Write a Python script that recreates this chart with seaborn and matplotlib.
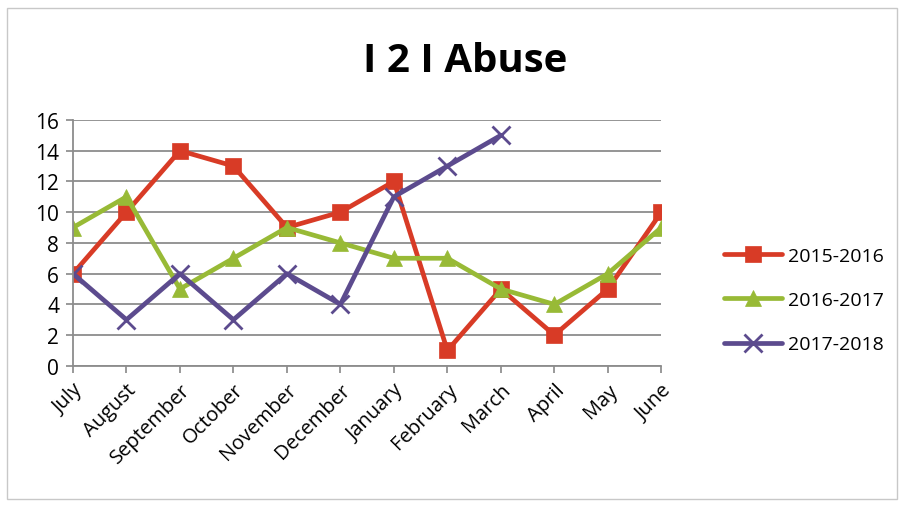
import matplotlib
matplotlib.use("Agg")
import matplotlib.pyplot as plt
import seaborn as sns
import pandas as pd
from matplotlib.patches import Rectangle

months = ["July", "August", "September", "October", "November", "December",
          "January", "February", "March", "April", "May", "June"]
s2015 = [6, 10, 14, 13, 9, 10, 12, 1, 5, 2, 5, 10]
s2016 = [9, 11, 5, 7, 9, 8, 7, 7, 5, 4, 6, 9]
s2017 = [6, 3, 6, 3, 6, 4, 11, 13, 15]
series_names = ["2015-2016", "2016-2017", "2017-2018"]
yticks = [0, 2, 4, 6, 8, 10, 12, 14, 16]

sns.set_theme(style="white")
plt.rcParams['font.family'] = ['Open Sans', 'DejaVu Sans']
plt.rcParams['text.color'] = 'black'
plt.rcParams['xtick.color'] = 'black'
plt.rcParams['ytick.color'] = 'black'

rows = []
for name, vals in zip(series_names, [s2015, s2016, s2017]):
    for i, v in enumerate(vals):
        rows.append({"idx": i, "month": months[i], "value": v, "series": name})
df = pd.DataFrame(rows)

fig = plt.figure(figsize=(9.01, 5.06), dpi=100)
ax = fig.add_axes([0.081, 0.275, 0.653, 0.486])

colors = {"2015-2016": "#D83B26", "2016-2017": "#98BA36", "2017-2018": "#5C4B8E"}
markers = {"2015-2016": "s", "2016-2017": "^", "2017-2018": "x"}
for name in series_names:
    sub = df[df.series == name]
    sns.lineplot(data=sub, x="idx", y="value", ax=ax, color=colors[name],
                 marker=markers[name], markersize=12 if name != "2017-2018" else 13,
                 markeredgewidth=2 if name == "2017-2018" else 0.5,
                 markeredgecolor=colors[name],
                 linewidth=3.4, label=name, sort=False)

ax.set_xlim(0, len(months) - 1)
ax.set_ylim(0, 16)
ax.set_yticks(yticks)
ax.set_yticklabels([str(t) for t in yticks], fontsize=15)
ax.set_xticks(range(len(months)))
ax.set_xticklabels(months, rotation=45, ha="right", rotation_mode="anchor", fontsize=14.5)
ax.set_xlabel("")
ax.set_ylabel("")
ax.yaxis.grid(True, color="#8c8c8c", linewidth=1.3)
ax.xaxis.grid(False)
for s in ["top", "right"]:
    ax.spines[s].set_visible(False)
for s in ["left", "bottom"]:
    ax.spines[s].set_color("#8c8c8c")
    ax.spines[s].set_linewidth(1.3)
ax.tick_params(axis="both", which="both", length=5, color="#8c8c8c", direction="out",
               left=True, bottom=True, pad=5, labelcolor="black")
ax.set_axisbelow(True)

handles, labels = ax.get_legend_handles_labels()
ax.legend().remove()
fig.legend(handles, labels, loc="center left", bbox_to_anchor=(0.795, 0.405),
           frameon=False, fontsize=14, labelspacing=1.35, handlelength=3.0,
           handletextpad=0.3, borderaxespad=0)

fig.text(0.516, 0.878, "I 2 I Abuse", ha="center", va="center",
         fontsize=29, fontweight="bold", color="black")

fig.patches.append(Rectangle((0.008, 0.012), 0.988, 0.97, transform=fig.transFigure,
                             fill=False, edgecolor="#c8c8c8", linewidth=1))

fig.savefig("out.png", dpi=100)
